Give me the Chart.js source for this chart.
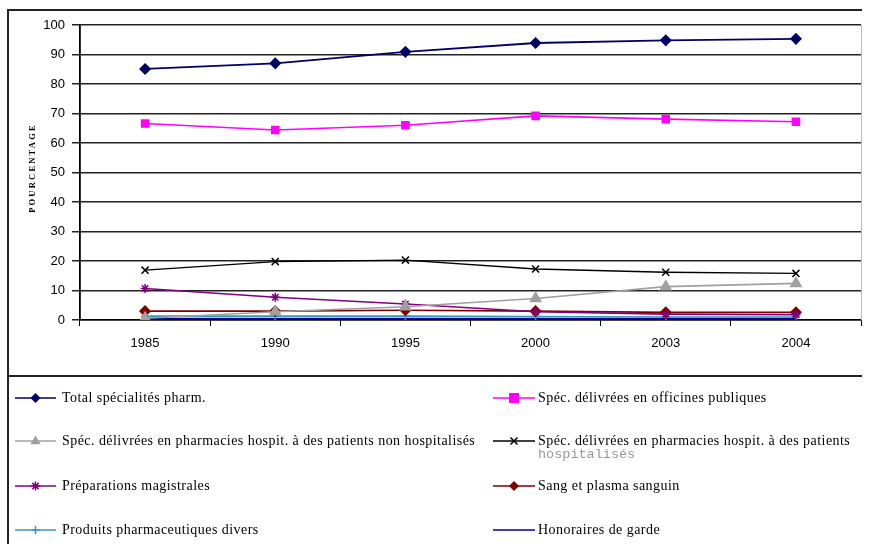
<!DOCTYPE html>
<html>
<head>
<meta charset="utf-8">
<script src="https://cdn.jsdelivr.net/npm/chart.js@4/dist/chart.umd.min.js"></script>
<style>
  html, body { margin: 0; padding: 0; background: #fff; }
  #wrap { width: 873px; height: 544px; position: relative; }
</style>
</head>
<body>
<div id="wrap"><canvas id="c" width="873" height="544"></canvas></div>
<script>
// Years on the category axis
const years = ['1985', '1990', '1995', '2000', '2003', '2004'];

// Share of each component, in percent
const totalSpecialites = [85.1, 87.0, 90.9, 93.9, 94.8, 95.3];
const officinesPubliques = [66.6, 64.4, 66.0, 69.2, 68.1, 67.2];
const hospitNonHospitalises = [0.6, 2.8, 4.5, 7.3, 11.3, 12.4];
const hospitHospitalises = [16.9, 19.8, 20.3, 17.3, 16.2, 15.8];
const preparationsMagistrales = [10.7, 7.7, 5.4, 2.8, 2.0, 1.8];
const sangPlasma = [3.0, 3.0, 3.3, 3.0, 2.6, 2.6];
const produitsDivers = [1.3, 1.3, 1.3, 1.2, 1.0, 1.0];
const honorairesGarde = [0.3, 0.3, 0.3, 0.3, 0.3, 0.3];

// Y axis ticks
const yTicks = [0, 10, 20, 30, 40, 50, 60, 70, 80, 90, 100];

const SERIF = '"Liberation Serif", "Times New Roman", serif';
const SANS = '"Liberation Sans", Arial, sans-serif';

function series(label, data, color, style, radius, width) {
  return {
    label, data,
    borderColor: color, backgroundColor: color,
    pointStyle: style, pointRadius: radius, pointHoverRadius: radius,
    pointBorderColor: color, pointBackgroundColor: color, pointBorderWidth: 1.5,
    borderWidth: width || 1.6, tension: 0, fill: false
  };
}

const datasets = [
  series('Total spécialités pharm.', totalSpecialites, '#000066', 'rectRot', 5, 1.8),
  series('Spéc. délivrées en officines publiques', officinesPubliques, '#ff00ff', 'rect', 5),
  series('Spéc. délivrées en pharmacies hospit. à des patients non hospitalisés', hospitNonHospitalises, '#a0a0a0', 'triangle', 6),
  series(['Spéc. délivrées en pharmacies hospit. à des patients', 'hospitalisés'], hospitHospitalises, '#000000', 'crossRot', 5, 1.4),
  series('Préparations magistrales', preparationsMagistrales, '#800080', 'star', 4.5),
  series('Sang et plasma sanguin', sangPlasma, '#800000', 'rectRot', 5),
  series('Produits pharmaceutiques divers', produitsDivers, '#3399bb', 'cross', 4),
  series('Honoraires de garde', honorairesGarde, '#000099', 'circle', 0, 2.6)
];

// Marker drawing for the legend keys
function drawMarker(ctx, style, r, x, y, color) {
  if (!r) return;
  ctx.save();
  ctx.fillStyle = color; ctx.strokeStyle = color; ctx.lineWidth = 1.5;
  ctx.beginPath();
  if (style === 'rectRot') {
    ctx.moveTo(x, y - r); ctx.lineTo(x + r, y); ctx.lineTo(x, y + r); ctx.lineTo(x - r, y); ctx.closePath(); ctx.fill();
  } else if (style === 'rect') {
    const s = r; ctx.fillRect(x - s, y - s, 2 * s, 2 * s);
  } else if (style === 'triangle') {
    ctx.moveTo(x, y - r); ctx.lineTo(x + r * 0.95, y + r * 0.6); ctx.lineTo(x - r * 0.95, y + r * 0.6); ctx.closePath(); ctx.fill();
  } else if (style === 'crossRot') {
    const s = r * 0.7; ctx.moveTo(x - s, y - s); ctx.lineTo(x + s, y + s); ctx.moveTo(x + s, y - s); ctx.lineTo(x - s, y + s); ctx.stroke();
  } else if (style === 'star') {
    const s = r * 0.7; ctx.moveTo(x - s, y - s); ctx.lineTo(x + s, y + s); ctx.moveTo(x + s, y - s); ctx.lineTo(x - s, y + s);
    ctx.moveTo(x - r, y); ctx.lineTo(x + r, y); ctx.moveTo(x, y - r); ctx.lineTo(x, y + r); ctx.stroke();
  } else if (style === 'cross') {
    ctx.moveTo(x - r, y); ctx.lineTo(x + r, y); ctx.moveTo(x, y - r); ctx.lineTo(x, y + r); ctx.stroke();
  }
  ctx.restore();
}

// Frame, axis title and two-column legend
const framePlugin = {
  id: 'frameAndLegend',
  afterDraw(chart) {
    const ctx = chart.ctx;
    const area = chart.chartArea;
    ctx.save();
    // outer frame
    ctx.strokeStyle = '#222'; ctx.lineWidth = 2;
    ctx.beginPath();
    ctx.moveTo(8, 544); ctx.lineTo(8, 10); ctx.lineTo(862, 10);
    ctx.moveTo(8, 376); ctx.lineTo(862, 376);
    ctx.stroke();
    // plot area right edge
    ctx.strokeStyle = '#bbb'; ctx.lineWidth = 1;
    ctx.beginPath(); ctx.moveTo(area.right + 0.5, area.top); ctx.lineTo(area.right + 0.5, area.bottom); ctx.stroke();

    // y axis title
    ctx.save();
    ctx.translate(33, 168);
    ctx.rotate(-Math.PI / 2);
    ctx.font = 'bold 8.5px ' + SERIF;
    ctx.letterSpacing = '2.2px';
    ctx.fillStyle = '#000';
    ctx.textAlign = 'center'; ctx.textBaseline = 'middle';
    ctx.fillText('POURCENTAGE', 0, 0);
    ctx.restore();

    // legend
    const cols = [{ x0: 15, x1: 56, tx: 62 }, { x0: 493, x1: 535, tx: 538 }];
    const rows = [398, 441, 486, 530];
    chart.data.datasets.forEach((ds, i) => {
      const c = cols[i % 2];
      const y = rows[Math.floor(i / 2)];
      ctx.strokeStyle = ds.borderColor; ctx.lineWidth = 1.5;
      ctx.beginPath(); ctx.moveTo(c.x0, y); ctx.lineTo(c.x1, y); ctx.stroke();
      drawMarker(ctx, ds.pointStyle, ds.pointRadius ? Math.min(ds.pointRadius, 5.5) : 0, (c.x0 + c.x1) / 2, y, ds.borderColor);
      ctx.textAlign = 'left'; ctx.textBaseline = 'middle';
      const lines = Array.isArray(ds.label) ? ds.label : [ds.label];
      lines.forEach((t, k) => {
        if (k === 0) {
          ctx.font = '14px ' + SERIF; ctx.fillStyle = '#000'; ctx.letterSpacing = '0.45px';
        } else {
          ctx.font = '13.5px "Liberation Mono", "DejaVu Sans Mono", monospace'; ctx.fillStyle = '#999'; ctx.letterSpacing = '0px';
        }
        ctx.fillText(t, c.tx, y + k * 13.5);
      });
    });
    ctx.restore();
  }
};

new Chart(document.getElementById('c'), {
  type: 'line',
  data: { labels: years, datasets },
  options: {
    responsive: false,
    animation: false,
    events: [],
    layout: { padding: { left: 8, right: 12, top: 25, bottom: 168 } },
    plugins: { legend: { display: false }, tooltip: { enabled: false } },
    scales: {
      x: {
        offset: true,
        grid: { offset: true, drawOnChartArea: false, drawTicks: true, tickLength: 6, color: '#000', lineWidth: 1 },
        border: { display: true, color: '#000', width: 1.5 },
        ticks: { color: '#000', font: { family: SANS, size: 13 }, padding: 10, maxRotation: 0 },
        afterFit(s) { s.height = 56; }
      },
      y: {
        min: 0, max: 100,
        afterBuildTicks(s) { s.ticks = yTicks.map(v => ({ value: v })); },
        grid: { color: '#222', lineWidth: 1.5, tickLength: 8, drawTicks: true },
        border: { display: true, color: '#000', width: 1.8 },
        ticks: { color: '#000', font: { family: SANS, size: 13 }, padding: 7 },
        afterFit(s) { s.width = 72; }
      }
    }
  },
  plugins: [framePlugin]
});
</script>
</body>
</html>
